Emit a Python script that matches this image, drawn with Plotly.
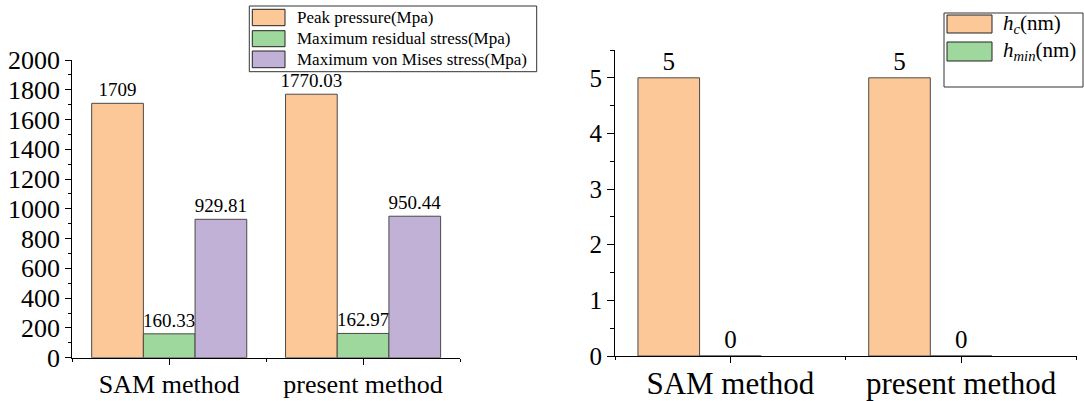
import plotly.graph_objects as go

# ---- data ----
categories = ["SAM method", "present method"]
peak_pressure = [1709, 1770.03]
max_residual = [160.33, 162.97]
max_von_mises = [929.81, 950.44]
hc_nm = [5, 5]
hmin_nm = [0, 0]

left_names = ["Peak pressure(Mpa)", "Maximum residual stress(Mpa)", "Maximum von Mises stress(Mpa)"]
right_names = ["<i>h</i><sub><i>c</i></sub>(nm)", "<i>h</i><sub><i>min</i></sub>(nm)"]

ORANGE = "#FCC897"
GREEN = "#9ED89D"
PURPLE = "#C2B1D6"
EDGE = "#4a4a4a"
FONT = "Times New Roman, Liberation Serif, DejaVu Serif, serif"

W, H = 1084, 401
xpos = list(range(len(categories)))

fig = go.Figure()

def fmt(v):
    return f"{v:g}"

# left chart
lw = 0.8 / 3
for i, (vals, col, name) in enumerate(zip([peak_pressure, max_residual, max_von_mises],
                                          [ORANGE, GREEN, PURPLE], left_names)):
    fig.add_trace(go.Bar(
        x=xpos, y=vals, width=lw, offset=-0.4 + i * lw,
        marker=dict(color=col, line=dict(color=EDGE, width=1)),
        text=[fmt(v) for v in vals], textposition="outside", constraintext="none",
        textfont=dict(family=FONT, size=19, color="black"), cliponaxis=False,
        name=name, showlegend=False, xaxis="x", yaxis="y"))

# right chart (bars sit left of centre: h_min bar is centred on the tick)
rw = 0.267
for i, (vals, col, name) in enumerate(zip([hc_nm, hmin_nm], [ORANGE, GREEN], right_names)):
    fig.add_trace(go.Bar(
        x=xpos, y=vals, width=rw, offset=-1.5 * rw + i * rw,
        marker=dict(color=col, line=dict(color=EDGE, width=1)),
        text=[fmt(v) for v in vals], textposition="outside", constraintext="none",
        textfont=dict(family=FONT, size=25, color="black"), cliponaxis=False,
        name=name, showlegend=False, xaxis="x2", yaxis="y2"))

def px_x(x):
    return x / W

def px_y(y):
    return 1 - y / H

axis_common = dict(showline=True, linecolor="black", linewidth=1.2, ticks="outside",
                   tickcolor="black", showgrid=False, zeroline=False, automargin=False)

fig.update_layout(
    width=W, height=H, margin=dict(l=0, r=0, t=0, b=0, pad=0, autoexpand=False),
    paper_bgcolor="white", plot_bgcolor="white", barmode="overlay",
    font=dict(family=FONT, color="black"),
    xaxis=dict(domain=[px_x(72.3), px_x(460)], range=[-0.5, 1.5], tickvals=xpos,
               ticktext=categories, ticklen=6, tickfont=dict(size=26), ticklabelstandoff=-3,
               minor=dict(tick0=0.5, dtick=1, ticks="outside", ticklen=3, tickcolor="black"),
               anchor="y", **axis_common),
    yaxis=dict(domain=[1 - 357.7 / H, 1 - 60 / H], range=[0, 2000], dtick=200, ticklen=6,
               tickfont=dict(size=26),
               minor=dict(dtick=100, ticks="outside", ticklen=3, tickcolor="black"),
               anchor="x", **axis_common),
    xaxis2=dict(domain=[px_x(615), px_x(1076.5)], range=[-0.5, 1.5], tickvals=xpos,
                ticktext=categories, ticklen=6, tickfont=dict(size=31), ticklabelstandoff=-6,
                minor=dict(tick0=0.5, dtick=1, ticks="outside", ticklen=3, tickcolor="black"),
                anchor="y2", **axis_common),
    yaxis2=dict(domain=[1 - 356 / H, 1 - 50 / H], range=[0, 5.5], dtick=1, ticklen=7,
                tickfont=dict(size=25),
                minor=dict(dtick=0.5, ticks="outside", ticklen=4, tickcolor="black"),
                anchor="x2", **axis_common),
)

shapes = []
annotations = []

def legend_box(box, swatch_x, rows, text_x, colors, names, size):
    x0, y0, x1, y1 = box
    shapes.append(dict(type="rect", xref="paper", yref="paper",
                       x0=px_x(x0), x1=px_x(x1), y0=px_y(y0), y1=px_y(y1),
                       line=dict(color="#333", width=1), fillcolor="white", layer="above"))
    for (ry0, ry1), col, name in zip(rows, colors, names):
        shapes.append(dict(type="rect", xref="paper", yref="paper",
                           x0=px_x(swatch_x[0]), x1=px_x(swatch_x[1]),
                           y0=px_y(ry0), y1=px_y(ry1),
                           line=dict(color="#222", width=1), fillcolor=col, layer="above"))
        annotations.append(dict(xref="paper", yref="paper", x=px_x(text_x),
                                y=px_y((ry0 + ry1) / 2), xanchor="left", yanchor="middle",
                                text=name, showarrow=False,
                                font=dict(family=FONT, size=size, color="black")))

legend_box((249.3, 6, 536.7, 71.7), (252.3, 285), [(9.3, 25.7), (30.7, 46.7), (51, 67.7)], 294.5,
           [ORANGE, GREEN, PURPLE], left_names, 17)
legend_box((944, 13, 1083, 87), (947, 992), [(15, 33), (42, 61)], 1001,
           [ORANGE, GREEN], right_names, 21)

fig.update_layout(shapes=shapes, annotations=annotations)
fig.write_html("out.html")
